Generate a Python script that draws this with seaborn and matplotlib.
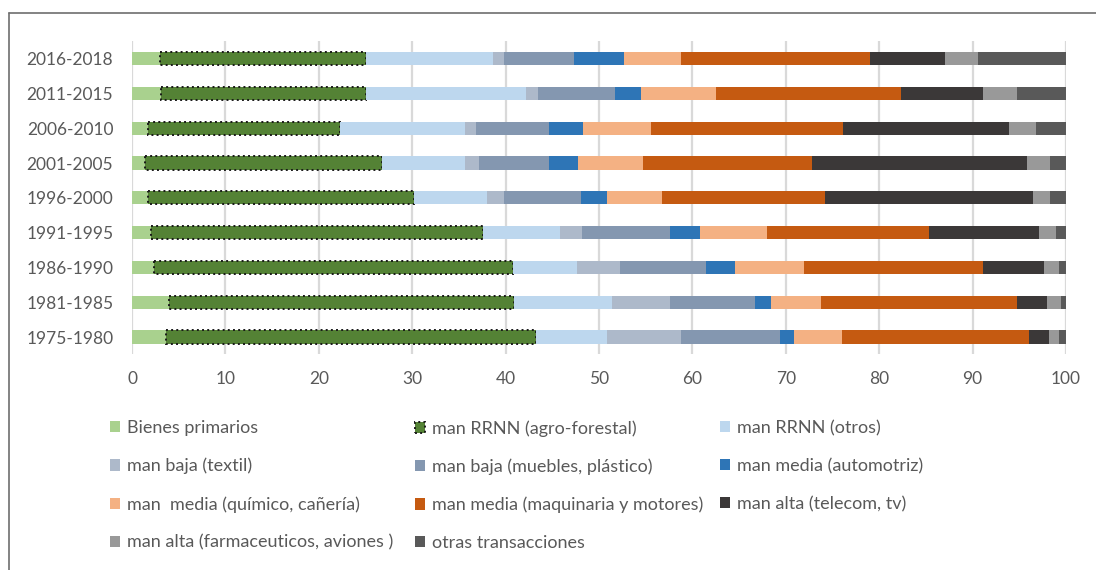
import numpy as np
import pandas as pd
import matplotlib
matplotlib.use('Agg')
import matplotlib.pyplot as plt
from matplotlib.lines import Line2D
from matplotlib.patches import Patch
import seaborn as sns

# periods, oldest first
periods = ['1975-1980', '1981-1985', '1986-1990', '1991-1995', '1996-2000',
           '2001-2005', '2006-2010', '2011-2015', '2016-2018']

# share of exports (%) by group, aligned with periods
bienes_primarios = [3.6, 4.0, 2.4, 2.0, 1.7, 1.4, 1.7, 3.1, 3.0]
rrnn_agro = [39.7, 36.9, 38.4, 35.6, 28.5, 25.4, 20.6, 21.9, 22.0]
rrnn_otros = [7.6, 10.5, 6.8, 8.2, 7.8, 8.9, 13.3, 17.2, 13.7]
baja_textil = [7.9, 6.2, 4.7, 2.4, 1.8, 1.4, 1.2, 1.3, 1.1]
baja_muebles = [10.6, 9.1, 9.2, 9.4, 8.3, 7.6, 7.9, 8.2, 7.5]
media_auto = [1.5, 1.7, 3.1, 3.2, 2.8, 3.1, 3.6, 2.8, 5.4]
media_quimico = [5.1, 5.4, 7.3, 7.2, 5.8, 6.9, 7.3, 8.0, 6.1]
media_maquinaria = [20.0, 21.0, 19.2, 17.3, 17.5, 18.1, 20.5, 19.8, 20.2]
alta_telecom = [2.2, 3.2, 6.5, 11.8, 22.3, 23.0, 17.8, 8.8, 8.0]
alta_farma = [1.1, 1.5, 1.6, 1.8, 1.8, 2.5, 2.9, 3.7, 3.6]
otras = [0.7, 0.5, 0.8, 1.1, 1.7, 1.7, 3.2, 5.2, 9.4]

series_names = ['Bienes primarios', 'man RRNN (agro-forestal)', 'man RRNN (otros)',
                'man baja (textil)', 'man baja (muebles, plástico)', 'man media (automotriz)',
                'man  media (químico, cañería)', 'man media (maquinaria y motores)',
                'man alta (telecom, tv)', 'man alta (farmaceuticos, aviones )',
                'otras transacciones']
series_values = [bienes_primarios, rrnn_agro, rrnn_otros, baja_textil, baja_muebles,
                 media_auto, media_quimico, media_maquinaria, alta_telecom, alta_farma, otras]
colors = ['#A9D18E', '#548235', '#BDD7EE', '#ADB9CA', '#8497B0', '#2E75B6',
          '#F4B183', '#C55A11', '#3B3838', '#999999', '#595959']

# newest period on top
order = periods[::-1]

FONT = 'Lato'
TXT = '#595959'

sns.set_style('white')
plt.rcParams['font.family'] = [FONT, 'DejaVu Sans']

fig = plt.figure(figsize=(10.96, 5.70), dpi=100)
ax = fig.add_axes([132 / 1096, 1 - 354.4 / 570, (1066 - 132) / 1096, (354.4 - 41.3) / 570])

left = np.zeros(len(periods))
handles = []
for name, vals, col in zip(series_names, series_values, colors):
    df = pd.DataFrame({'periodo': periods, 'valor': vals, 'left': left})
    df = df.set_index('periodo').loc[order].reset_index()
    if name.startswith('man RRNN (agro'):
        style = dict(edgecolor='#1a1a1a', linewidth=1.4, linestyle=':')
    else:
        style = dict(edgecolor=col, linewidth=0)
    sns.barplot(data=df, x='valor', y='periodo', order=order, orient='h',
                color=col, saturation=1, width=0.38, errorbar=None,
                left=df['left'].values, ax=ax, **style)
    handles.append(Patch(facecolor=col, label=name, **style))
    left = left + np.array(vals)

ax.set_xlim(0, 100)
ax.set_xticks(range(0, 101, 10))
ax.set_xlabel('')
ax.set_ylabel('')
ax.grid(axis='x', color='#D9D9D9', linewidth=1.6)
ax.grid(axis='y', visible=False)
ax.set_axisbelow(True)
for s in ax.spines.values():
    s.set_visible(False)
ax.tick_params(axis='x', length=0, pad=12, labelsize=12.5, labelcolor=TXT)
ax.tick_params(axis='y', length=0, pad=13.5, labelsize=12.5, labelcolor=TXT)

# legend laid out row by row in three columns
cols_idx = [[0, 3, 6, 9], [1, 4, 7, 10], [2, 5, 8]]
col_x = [110, 415, 720]
for idx, x0 in zip(cols_idx, col_x):
    fig.legend(handles=[handles[i] for i in idx], loc='upper left',
               bbox_to_anchor=(x0 / 1096, 1 - 420 / 570), frameon=False,
               fontsize=13, labelcolor=TXT, handlelength=0.58, handleheight=0.58,
               handletextpad=0.35, labelspacing=1.21, borderpad=0, borderaxespad=0)

# chart area border
fig.add_artist(Line2D([9 / 1096, 1], [1 - 13 / 570, 1 - 13 / 570], color='#6E6E6E', linewidth=1.2))
fig.add_artist(Line2D([9 / 1096, 9 / 1096], [0, 1 - 13 / 570], color='#6E6E6E', linewidth=1.2))

fig.savefig('out.png', dpi=100)
